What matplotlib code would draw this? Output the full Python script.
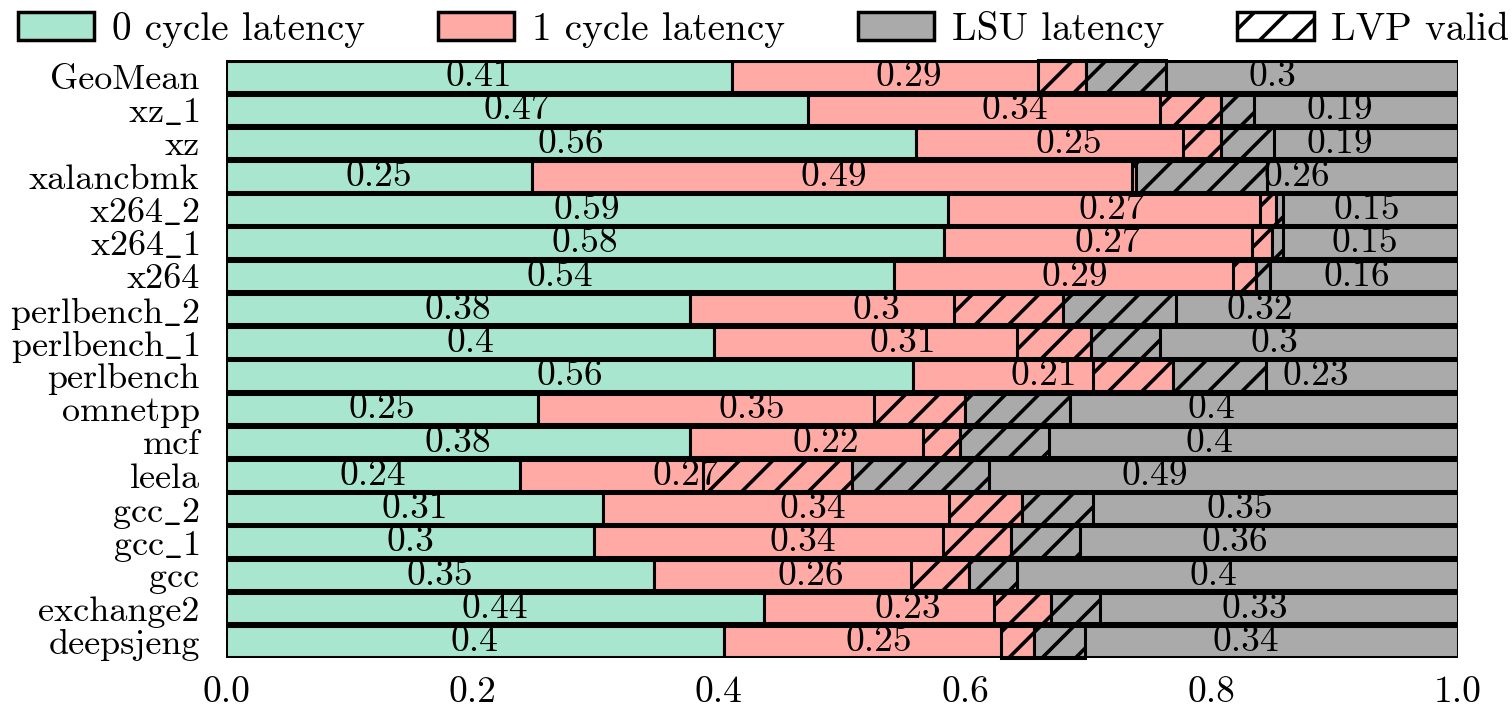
import matplotlib
matplotlib.use('Agg')
import matplotlib.pyplot as plt
import matplotlib.patches as mpatches
import numpy as np

plt.rcParams['font.family'] = ['cmr10', 'DejaVu Serif']
plt.rcParams['mathtext.fontset'] = 'cm'
plt.rcParams['axes.unicode_minus'] = False
plt.rcParams['hatch.linewidth'] = 2.6
plt.rcParams['font.size'] = 27

# benchmarks listed top to bottom
benchmarks = ['GeoMean', 'xz_1', 'xz', 'xalancbmk', 'x264_2', 'x264_1', 'x264',
              'perlbench_2', 'perlbench_1', 'perlbench', 'omnetpp', 'mcf', 'leela',
              'gcc_2', 'gcc_1', 'gcc', 'exchange2', 'deepsjeng']
zero_cycle = [0.411, 0.472, 0.560, 0.248, 0.586, 0.583, 0.542, 0.377, 0.396,
              0.558, 0.253, 0.377, 0.239, 0.306, 0.299, 0.347, 0.437, 0.404]
one_cycle = [0.287, 0.336, 0.248, 0.491, 0.266, 0.266, 0.294, 0.302, 0.306,
             0.211, 0.347, 0.219, 0.269, 0.340, 0.338, 0.256, 0.233, 0.252]
lsu = [0.302, 0.192, 0.192, 0.261, 0.148, 0.151, 0.164, 0.321, 0.298,
       0.231, 0.400, 0.404, 0.492, 0.354, 0.363, 0.397, 0.330, 0.344]
# LVP valid share that falls in the 1-cycle part and in the LSU part
lvp_one = [0.039, 0.050, 0.031, 0.004, 0.013, 0.016, 0.019, 0.088, 0.060,
           0.065, 0.074, 0.030, 0.121, 0.059, 0.055, 0.047, 0.047, 0.027]
lvp_lsu = [0.065, 0.026, 0.043, 0.106, 0.006, 0.009, 0.011, 0.092, 0.056,
           0.075, 0.085, 0.072, 0.111, 0.058, 0.056, 0.039, 0.039, 0.041]

colors = ['#a8e6cf', '#ffaaa5', '#aaaaaa']
names = ['0 cycle latency', '1 cycle latency', 'LSU latency']


def tex_label(s):
    # cmr10 has no plain underscore glyph, let mathtext draw it
    return s.replace('_', r'$\_$')


fig = plt.figure(figsize=(15.12, 7.10), dpi=100)
ax = fig.add_axes([0.1495, 0.0732, 0.8148, 0.8423])

n = len(benchmarks)
y = np.arange(n)[::-1]
g = np.array(zero_cycle)
p = np.array(one_cycle)
l = np.array(lsu)
h = 0.92
lw = 2.2

lefts = [np.zeros(n), g, g + p]
for vals, left, c in zip([g, p, l], lefts, colors):
    ax.barh(y, vals, left=left, height=h, color=c, edgecolor='black',
            linewidth=lw, zorder=2)
    for yi, v, lf in zip(y, vals, left):
        ax.text(lf + v / 2, yi, str(round(v, 2)), ha='center', va='center',
                fontsize=27, zorder=3)

lo = np.array(lvp_one)
ll = np.array(lvp_lsu)
ax.barh(y, lo + ll, left=g + p - lo, height=1.0, fill=False, hatch='/',
        edgecolor='black', linewidth=lw, zorder=4, clip_on=False)

ax.set_xlim(0, 1.0)
ax.set_ylim(-0.5, n - 0.5)
ax.set_yticks(y)
ax.set_yticklabels([tex_label(b) for b in benchmarks])
ax.set_xticks([0.0, 0.2, 0.4, 0.6, 0.8, 1.0])
ax.tick_params(axis='both', length=0)
ax.tick_params(axis='y', pad=19, labelsize=26)
ax.tick_params(axis='x', pad=13, labelsize=27)
for s in ax.spines.values():
    s.set_visible(False)

handles = [mpatches.Patch(facecolor=c, edgecolor='black', linewidth=2.5, label=nm)
           for c, nm in zip(colors, names)]
handles.append(mpatches.Patch(facecolor='white', edgecolor='black', linewidth=2.5,
                              hatch='/', label='LVP valid'))
fig.legend(handles=handles, loc='upper center', bbox_to_anchor=(0.505, 1.035),
           ncol=4, frameon=False, fontsize=28.3, handlelength=1.95,
           handleheight=0.7, handletextpad=0.45, columnspacing=1.85)

fig.savefig('out.png', dpi=100)
